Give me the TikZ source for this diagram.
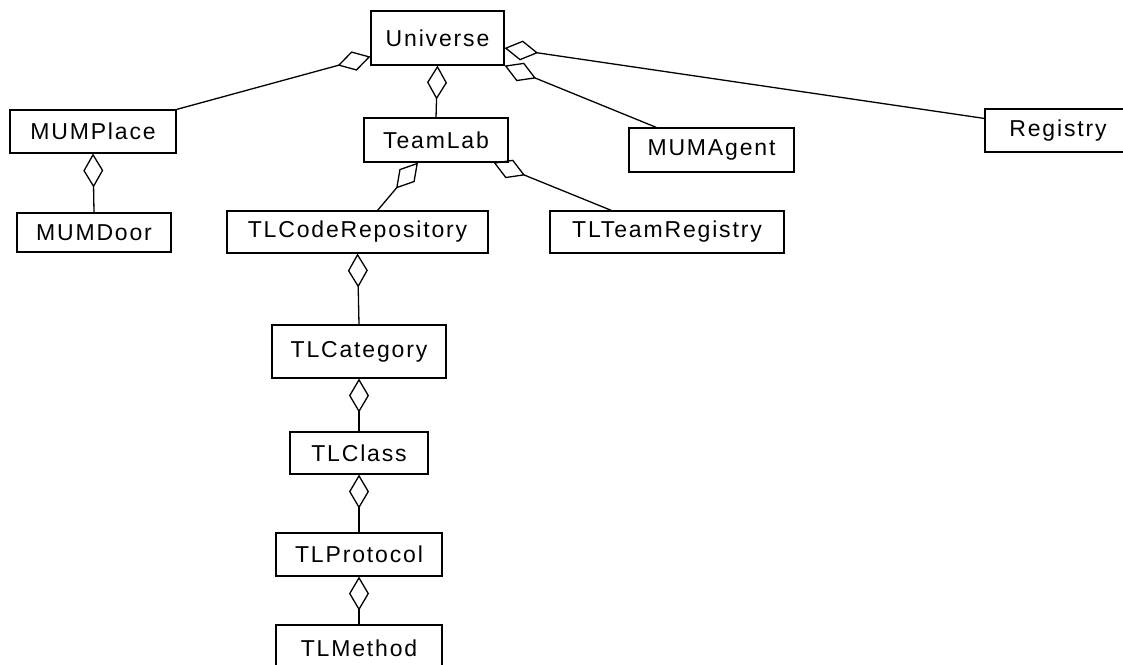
\documentclass[tikz,border=0pt]{standalone}
\usepackage{fontspec}
\setmainfont{Liberation Sans}[LetterSpace=8]
\usetikzlibrary{arrows.meta,calc}
\begin{document}
\begin{tikzpicture}[x=1pt,y=-1pt,
  cls/.style={draw, line width=1.1pt, inner sep=0pt,
              font=\fontsize{23}{26}\selectfont},
  agg/.style={line width=1.3pt,
              {Diamond[open,length=34pt,width=20pt,line width=1.3pt]}-}]
\useasboundingbox (0,0) rectangle (1123,664);

% classes
\node[cls, minimum width=133pt, minimum height=54pt] (universe) at (437.5,38) {Universe};
\node[cls, minimum width=166pt, minimum height=43pt] (mumplace) at (93,131.5) {MUMPlace};
\node[cls, minimum width=154pt, minimum height=39pt] (mumdoor)  at (94,232.5) {MUMDoor};
\node[cls, minimum width=144pt, minimum height=44pt] (teamlab)  at (436,140) {TeamLab};
\node[cls, minimum width=165pt, minimum height=44pt] (mumagent) at (711.5,150) {MUMAgent};
\node[cls, minimum width=146pt, minimum height=43pt] (registry) at (1058,130.5) {Registry};
\node[cls, minimum width=261pt, minimum height=42pt] (coderepo) at (357.5,232) {TLCodeRepository};
\node[cls, minimum width=234pt, minimum height=42pt] (teamreg)  at (667,232) {TLTeamRegistry};
\node[cls, minimum width=174pt, minimum height=53pt] (category) at (359,351.5) {TLCategory};
\node[cls, minimum width=138pt, minimum height=42pt] (tlclass)  at (359,453) {TLClass};
\node[cls, minimum width=166pt, minimum height=43pt] (protocol) at (359,554.5) {TLProtocol};
\node[cls, minimum width=166pt, minimum height=46pt] (method)   at (359,648) {TLMethod};

% aggregations (diamond at the whole)
\draw[agg] ($(universe.south west)+(0,-9)$) -- (mumplace.north east);
\draw[agg] (universe.south) -- (teamlab.north);
\draw[agg] (universe.south east) -- ($(mumagent.north west)+(28,0)$);
\draw[agg] ($(universe.east)+(0,10)$) -- ($(registry.north west)+(0,10)$);
\draw[agg] (mumplace.south) -- (mumdoor.north);
\draw[agg] ($(teamlab.south)+(-18,0)$) -- ($(coderepo.north)+(20,0)$);
\draw[agg] ($(teamlab.south east)+(-15,0)$) -- ($(teamreg.north west)+(62,0)$);
\draw[agg] (coderepo.south) -- (category.north);
\draw[agg] (category.south) -- (tlclass.north);
\draw[agg] (tlclass.south) -- (protocol.north);
\draw[agg] (protocol.south) -- (method.north);
\end{tikzpicture}
\end{document}
